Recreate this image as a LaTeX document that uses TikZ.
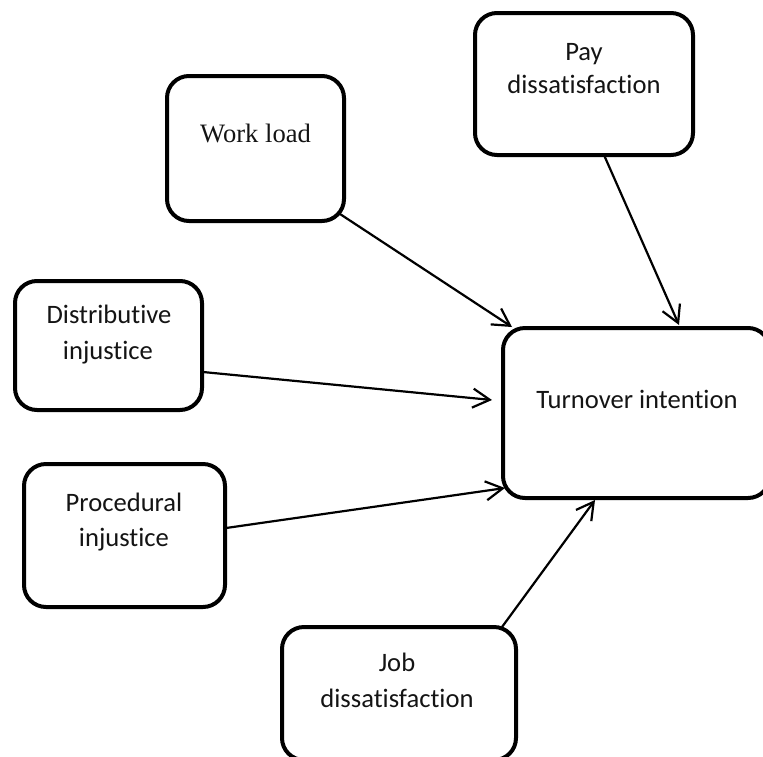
\documentclass[tikz,border=0pt]{standalone}
\usepackage{fontspec}
\setmainfont{Carlito}[Ligatures={NoCommon,NoRequired,NoContextual}]
\newfontfamily\serifwl{Liberation Serif}
\usetikzlibrary{arrows.meta}
\begin{document}
\begin{tikzpicture}[x=1pt,y=-1pt,
  box/.style={draw=black, line width=4pt, rounded corners=22pt, inner sep=0pt, outer sep=0pt},
  lbl/.style={anchor=base, inner sep=0pt, font=\fontsize{26.6pt}{35pt}\selectfont, text=black!92},
  conn/.style={line width=2.2pt, -{Straight Barb[length=17pt,width=19pt,line width=2.2pt]}}]
\useasboundingbox (0,0) rectangle (763,756);
% boxes
\node[box, minimum width=218pt, minimum height=142pt] (pay)  at (584,84) {};
\node[box, minimum width=177pt, minimum height=145pt] (wl)   at (255.5,148.5) {};
\node[box, minimum width=187pt, minimum height=129pt] (dist) at (108.5,345.5) {};
\node[box, minimum width=201pt, minimum height=143pt] (proc) at (124.5,535.5) {};
\node[box, minimum width=267pt, minimum height=170pt] (turn) at (636.5,413) {};
\node[box, minimum width=234pt, minimum height=133pt] (job)  at (399,693.5) {};
% texts
\node[lbl] (payA) at (584,60) {Pay};
\node[lbl] (payB) at (584,93) {dissatisfaction};
\node[lbl, font=\serifwl\fontsize{26.6pt}{35pt}\selectfont] (wlA) at (255.5,142) {Work load};
\node[lbl] (distA) at (109,323) {Distributive};
\node[lbl] (distB) at (108,359) {injustice};
\node[lbl] (procA) at (124,511) {Procedural};
\node[lbl] (procB) at (124,546) {injustice};
\node[lbl] (turnA) at (637,408) {Turnover intention};
\node[lbl] (jobA) at (397,671) {Job};
\node[lbl] (jobB) at (397,707) {dissatisfaction};
% connectors
\draw[conn] ([shift={(-4,-7)}]wl.south east) -- ([shift={(9,-1)}]turn.north west);
\draw[conn] ([shift={(20,0)}]pay.south) -- ([shift={(42.5,-3)}]turn.north);
\draw[conn] ([shift={(1,26.5)}]dist.east) -- ([shift={(-11,-13)}]turn.west);
\draw[conn] ([shift={(1,-7.5)}]proc.east) -- ([shift={(2,-10)}]turn.south west);
\draw[conn] ([shift={(-14,0)}]job.north east) -- ([shift={(-41.5,2)}]turn.south);
\end{tikzpicture}
\end{document}
